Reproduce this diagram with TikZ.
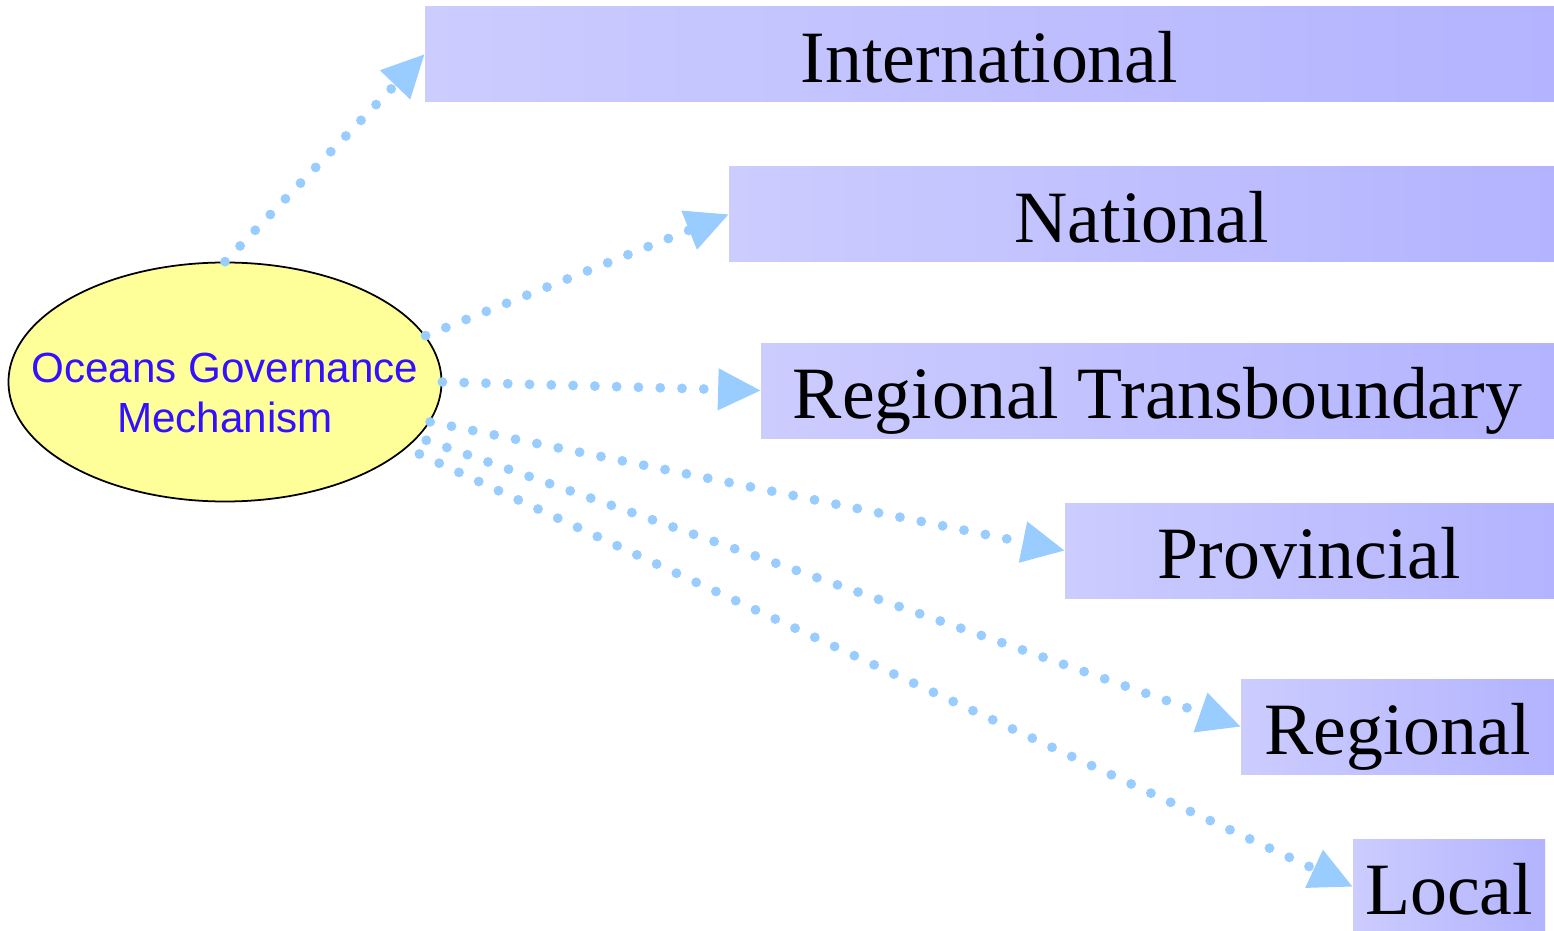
\documentclass[tikz,border=0pt]{standalone}
\usepackage{fontspec}
\setmainfont{Liberation Serif}
\setsansfont{Liberation Sans}
\usetikzlibrary{shapes.geometric,arrows.meta}

\begin{document}
\begin{tikzpicture}[
  level/.style={shade, left color=levelleft, right color=levelright,
    inner sep=0pt, minimum height=0.95cm, text height=0.6cm, text depth=0.04cm,
    font=\fontsize{21}{25}\selectfont},
  link/.style={draw=linkblue, line width=2.8pt, line cap=round,
    dash pattern=on 0pt off 6.2pt,
    -{Triangle[length=12pt,width=12pt,line width=0pt,fill=linkblue]}}
]
  % Define colors
  \definecolor{mechfill}{HTML}{FFFF99}
  \definecolor{mechtext}{HTML}{3311FF}
  \definecolor{linkblue}{HTML}{99CCFF}
  \definecolor{levelleft}{HTML}{CCCCFF}
  \definecolor{levelright}{HTML}{B3B3FF}

  \useasboundingbox (0,0) rectangle (15.54,-9.30);

  % Central mechanism
  \node[ellipse, draw=black, line width=0.5pt, fill=mechfill, text=mechtext,
    minimum width=4.33cm, minimum height=2.39cm, inner xsep=-0.41cm, inner ysep=0pt,
    align=center, font=\sffamily\fontsize{12}{14.2}\selectfont]
    (mech) at (2.25,-3.82) {\rule{0pt}{14.5pt}Oceans Governance\\Mechanism};

  % Governance levels
  \node[level, minimum width=11.29cm] (intl) at (9.895,-0.545) {International};
  \node[level, minimum width=8.25cm] (natl) at (11.415,-2.145) {National};
  \node[level, minimum width=7.93cm] (rtb) at (11.575,-3.905) {Regional Transboundary};
  \node[level, minimum width=4.89cm] (prov) at (13.095,-5.505) {Provincial};
  \node[level, minimum width=3.13cm] (reg) at (13.975,-7.265) {Regional};
  \node[level, minimum width=1.92cm] (loc) at (14.49,-8.865) {Local};

  % Links
  \draw[link] (mech.north) -- (intl.west);
  \draw[link] (mech.13) -- (natl.west);
  \draw[link] (mech.east) -- (rtb.west);
  \draw[link] (mech.-11) -- (prov.west);
  \draw[link, shorten <=2.5pt] (mech.-16.5) -- (reg.west);
  \draw[link, shorten <=4pt] (mech.-20.4) -- (loc.west);
\end{tikzpicture}
\end{document}
